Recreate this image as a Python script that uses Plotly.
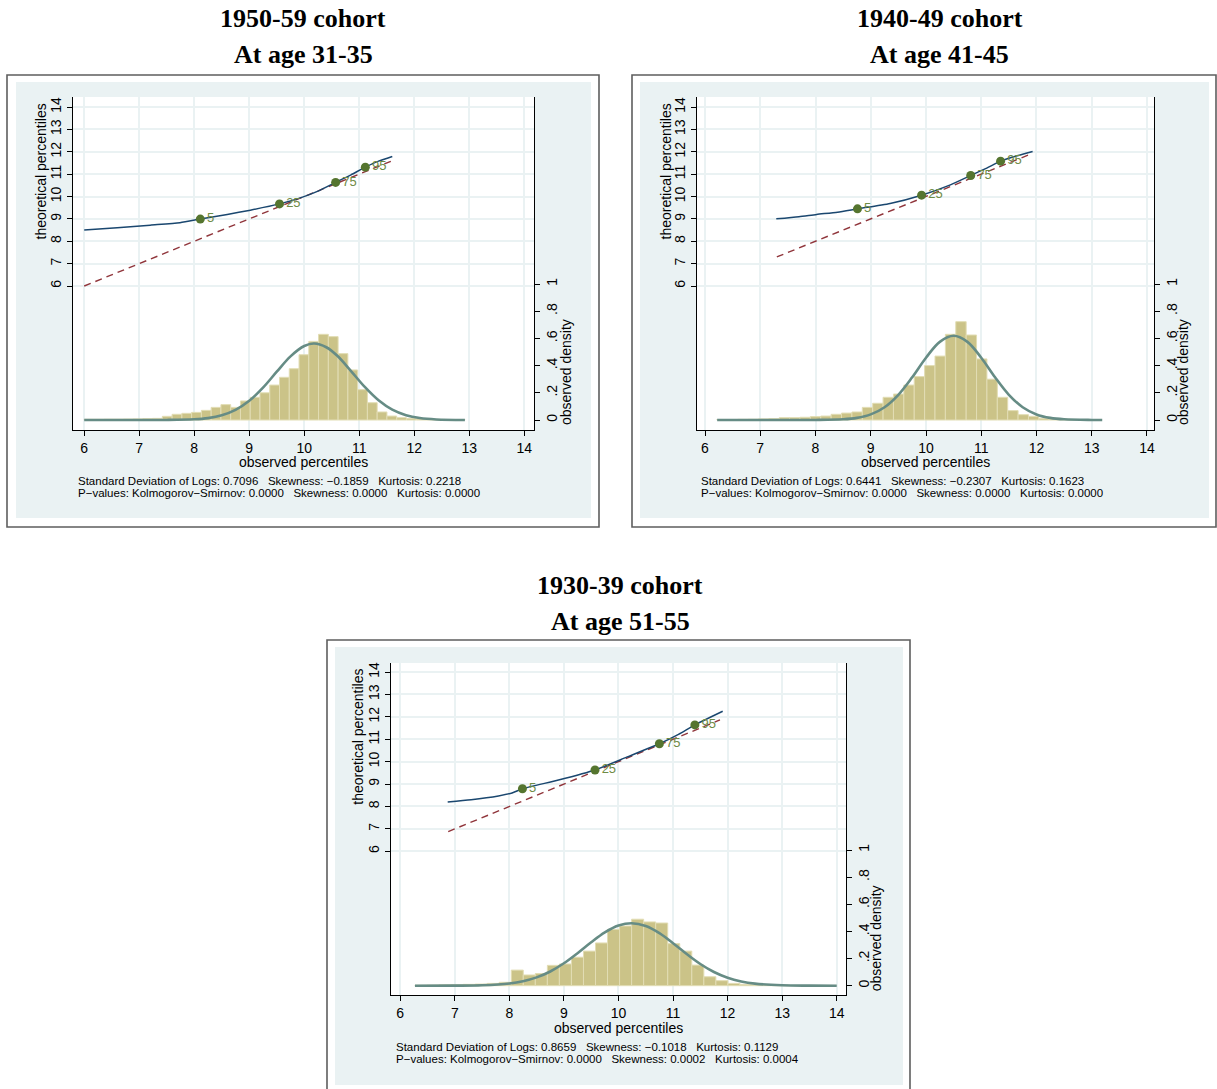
import plotly.graph_objects as go

W, H = 1217, 1089

# ---------------- data ----------------
title_lines = [["1950-59 cohort", "At age 31-35"],
               ["1940-49 cohort", "At age 41-45"],
               ["1930-39 cohort", "At age 51-55"]]

x_ticks = [6, 7, 8, 9, 10, 11, 12, 13, 14]
y_ticks = [6, 7, 8, 9, 10, 11, 12, 13, 14]
dens_ticks = [0, 0.2, 0.4, 0.6, 0.8, 1]
dens_ticktext = ["0", ".2", ".4", ".6", ".8", "1"]

# histogram bins (observed log values)
p1_bin_start, p1_bin_width = 6.0, 0.1775
p1_density = [0.005, 0.005, 0.006, 0.006, 0.007, 0.008, 0.010, 0.012,
              0.027, 0.042, 0.049, 0.056, 0.071, 0.093, 0.113, 0.093,
              0.140, 0.167, 0.200, 0.257, 0.314, 0.377, 0.480, 0.578,
              0.630, 0.613, 0.488, 0.368, 0.223, 0.127, 0.059, 0.029,
              0.017, 0.011, 0.008, 0.005, 0.004, 0.003, 0.002]

p2_bin_start, p2_bin_width = 6.215, 0.188
p2_density = [0.004, 0.004, 0.005, 0.006, 0.008, 0.010, 0.017, 0.017,
              0.020, 0.025, 0.029, 0.042, 0.051, 0.059, 0.093, 0.123,
              0.167, 0.191, 0.257, 0.319, 0.400, 0.470, 0.630, 0.723,
              0.625, 0.449, 0.300, 0.167, 0.069, 0.039, 0.027, 0.012,
              0.008, 0.005, 0.004, 0.003, 0.003]

p3_bin_start, p3_bin_width = 6.27, 0.2206
p3_density = [0.003, 0.004, 0.006, 0.007, 0.010, 0.012, 0.017, 0.025,
              0.115, 0.079, 0.090, 0.150, 0.160, 0.210, 0.255, 0.315,
              0.415, 0.440, 0.490, 0.470, 0.462, 0.310, 0.255, 0.152,
              0.066, 0.037, 0.017, 0.010, 0.006, 0.004, 0.003, 0.002,
              0.002, 0.002, 0.002]

# fitted normal density curves
p1_norm_x = [6.0, 7.0, 7.5, 8.0, 8.25, 8.5, 8.75, 9.0, 9.25, 9.5, 9.75, 10.0,
             10.18, 10.4, 10.6, 10.85, 11.1, 11.35, 11.6, 11.85, 12.1, 12.4, 12.92]
p1_norm_y = [0.0, 0.0, 0.0005, 0.0051, 0.014, 0.0342, 0.074, 0.141, 0.238, 0.355,
             0.468, 0.544, 0.562, 0.535, 0.472, 0.360, 0.243, 0.145, 0.076,
             0.0354, 0.0145, 0.0042, 0.0003]

p2_norm_x = [6.22, 7.5, 8.0, 8.5, 8.75, 9.0, 9.25, 9.5, 9.75, 10.0, 10.25, 10.5,
             10.75, 11.0, 11.25, 11.5, 11.75, 12.0, 12.25, 12.5, 13.0, 13.19]
p2_norm_y = [0.0, 0.0, 0.0003, 0.005, 0.0155, 0.0411, 0.094, 0.1855, 0.314, 0.458,
             0.5746, 0.6195, 0.5746, 0.458, 0.314, 0.1855, 0.094, 0.0411, 0.0155,
             0.005, 0.0003, 0.0]

p3_norm_x = [6.27, 7.0, 7.5, 8.0, 8.25, 8.5, 8.75, 9.0, 9.25, 9.5, 9.75, 10.0, 10.24,
             10.5, 10.75, 11.0, 11.25, 11.5, 11.75, 12.0, 12.25, 12.5, 13.0, 13.5, 14.0]
p3_norm_y = [0.0, 0.0004, 0.0031, 0.0162, 0.0329, 0.0612, 0.1049, 0.1653, 0.2397,
             0.3198, 0.3925, 0.4433, 0.4607, 0.4404, 0.3874, 0.3135, 0.2334, 0.1599,
             0.1008, 0.0584, 0.0311, 0.0153, 0.0029, 0.0004, 0.0]

# quantile-quantile curves: observed vs theoretical percentiles
p1_qq_obs = [6.00, 6.6, 7.2, 7.74, 8.11, 8.6, 9.02, 9.55, 9.93, 10.25, 10.57, 10.85, 11.11, 11.35, 11.60]
p1_qq_theo = [8.50, 8.60, 8.72, 8.83, 8.99, 9.20, 9.39, 9.67, 9.94, 10.24, 10.63, 10.97, 11.31, 11.58, 11.79]
p2_qq_obs = [7.29, 7.7, 8.02, 8.4, 8.76, 9.35, 9.92, 10.43, 10.81, 11.1, 11.35, 11.65, 11.93]
p2_qq_theo = [9.00, 9.10, 9.20, 9.30, 9.45, 9.69, 10.06, 10.51, 10.94, 11.27, 11.58, 11.82, 12.01]
p3_qq_obs = [6.87, 7.3, 7.8, 8.05, 8.24, 8.9, 9.57, 10.15, 10.75, 11.1, 11.4, 11.91]
p3_qq_theo = [8.20, 8.30, 8.47, 8.60, 8.79, 9.18, 9.63, 10.20, 10.80, 11.22, 11.64, 12.25]

# 45-degree reference line endpoints
p1_ref = [6.00, 11.60]
p2_ref = [7.30, 11.85]
p3_ref = [6.88, 11.86]

# marked percentiles
pct_labels = ["5", "25", "75", "95"]
p1_pct_obs = [8.11, 9.55, 10.57, 11.11]
p1_pct_theo = [8.99, 9.67, 10.63, 11.31]
p2_pct_obs = [8.76, 9.92, 10.81, 11.35]
p2_pct_theo = [9.45, 10.06, 10.94, 11.58]
p3_pct_obs = [8.24, 9.57, 10.75, 11.40]
p3_pct_theo = [8.79, 9.63, 10.80, 11.64]

stats_line1 = ["Standard Deviation of Logs: 0.7096   Skewness: \u22120.1859   Kurtosis: 0.2218",
               "Standard Deviation of Logs: 0.6441   Skewness: \u22120.2307   Kurtosis: 0.1623",
               "Standard Deviation of Logs: 0.8659   Skewness: \u22120.1018   Kurtosis: 0.1129"]
stats_line2 = ["P\u2212values: Kolmogorov\u2212Smirnov: 0.0000   Skewness: 0.0000   Kurtosis: 0.0000",
               "P\u2212values: Kolmogorov\u2212Smirnov: 0.0000   Skewness: 0.0000   Kurtosis: 0.0000",
               "P\u2212values: Kolmogorov\u2212Smirnov: 0.0000   Skewness: 0.0002   Kurtosis: 0.0004"]

# ---------------- layout geometry (pixels) ----------------
panels = [
    dict(plot=(73, 534, 97, 430), xr=[5.796, 14.176], yl=[-0.436, 14.447], yr=[-0.0735, 2.375],
         border=(7, 599, 75, 527), fill=(16, 591, 82, 518), title_x=303, title_y=(19, 55),
         ytitle=(40, 171.5), rtitle=(566, 372), xtitle=(303.5, 461.7), stats=(76, 481, 492.5)),
    dict(plot=(697, 1154, 97, 430), xr=[5.855, 14.127], yl=[-0.436, 14.447], yr=[-0.0735, 2.375],
         border=(632, 1216, 75, 527), fill=(640, 1209, 82, 518), title_x=940, title_y=(19, 55),
         ytitle=(665, 171.5), rtitle=(1183, 372), xtitle=(925, 461.7), stats=(698.5, 481, 492.5)),
    dict(plot=(391, 846, 663, 995), xr=[5.831, 14.170], yl=[-0.412, 14.402], yr=[-0.0685, 2.378],
         border=(327, 910, 640, 1100), fill=(335, 903, 647, 1085), title_x=620, title_y=(585, 621),
         ytitle=(358, 736.7), rtitle=(876, 938.3), xtitle=(618, 1027.7), stats=(393.5, 1047.3, 1059)),
]

hist = [(p1_bin_start, p1_bin_width, p1_density),
        (p2_bin_start, p2_bin_width, p2_density),
        (p3_bin_start, p3_bin_width, p3_density)]
norms = [(p1_norm_x, p1_norm_y), (p2_norm_x, p2_norm_y), (p3_norm_x, p3_norm_y)]
qqs = [(p1_qq_obs, p1_qq_theo), (p2_qq_obs, p2_qq_theo), (p3_qq_obs, p3_qq_theo)]
refs = [p1_ref, p2_ref, p3_ref]
pcts = [(p1_pct_obs, p1_pct_theo), (p2_pct_obs, p2_pct_theo), (p3_pct_obs, p3_pct_theo)]

BG = "#EAF2F3"
NAVY = "#1A476F"
MAROON = "#90353B"
KHAKI = "#CBC388"
CURVE = "#668C85"
GREEN = "#55752F"
GREEN_TXT = "#6E8B45"
SANS = "Liberation Sans, Arial, sans-serif"
SERIF = "Liberation Serif, Times New Roman, serif"


def px(x):
    return x / W


def py(y):
    return 1 - y / H


fig = go.Figure()
shapes = []
annotations = []
layout = {}

for i, p in enumerate(panels):
    n = i + 1
    xa = "x" if n == 1 else f"x{n}"
    yl_id = 2 * n - 1
    yr_id = 2 * n
    yla = "y" if yl_id == 1 else f"y{yl_id}"
    yra = f"y{yr_id}"

    x0, x1, y0, y1 = p["plot"]
    bx0, bx1, by0, by1 = p["border"]
    fx0, fx1, fy0, fy1 = p["fill"]
    shapes.append(dict(type="rect", xref="paper", yref="paper", layer="below",
                       x0=px(bx0), x1=px(bx1), y0=py(by1), y1=py(by0),
                       line=dict(color="#5E5E5E", width=1.6), fillcolor="white"))
    shapes.append(dict(type="rect", xref="paper", yref="paper", layer="below",
                       x0=px(fx0), x1=px(fx1), y0=py(fy1), y1=py(fy0),
                       line=dict(width=0), fillcolor=BG))
    shapes.append(dict(type="rect", xref="paper", yref="paper", layer="below",
                       x0=px(x0), x1=px(x1), y0=py(y1), y1=py(y0),
                       line=dict(width=0), fillcolor="white"))

    # histogram
    start, width, dens = hist[i]
    centers = [start + width * (k + 0.5) for k in range(len(dens))]
    fig.add_trace(go.Bar(x=centers, y=dens, width=width, xaxis=xa, yaxis=yra,
                         marker=dict(color=KHAKI, line=dict(color="#E2DDB4", width=1)),
                         showlegend=False, hoverinfo="skip"))
    # normal curve
    nx, ny = norms[i]
    fig.add_trace(go.Scatter(x=nx, y=ny, mode="lines", xaxis=xa, yaxis=yra,
                             line=dict(color=CURVE, width=2.6, shape="spline", smoothing=1.0),
                             showlegend=False, hoverinfo="skip"))
    # reference line
    r = refs[i]
    fig.add_trace(go.Scatter(x=r, y=r, mode="lines", xaxis=xa, yaxis=yla,
                             line=dict(color=MAROON, width=1.4, dash="7px,5px"),
                             showlegend=False, hoverinfo="skip"))
    # qq curve
    qo, qt = qqs[i]
    fig.add_trace(go.Scatter(x=qo, y=qt, mode="lines", xaxis=xa, yaxis=yla,
                             line=dict(color=NAVY, width=1.5, shape="spline", smoothing=0.6),
                             showlegend=False, hoverinfo="skip"))
    # percentile markers
    po, pt = pcts[i]
    fig.add_trace(go.Scatter(x=po, y=pt, mode="markers+text", xaxis=xa, yaxis=yla,
                             text=pct_labels, textposition="middle right",
                             textfont=dict(family=SANS, size=13, color=GREEN_TXT),
                             marker=dict(color=GREEN, size=9),
                             showlegend=False, hoverinfo="skip"))

    axis_common = dict(showline=True, linecolor="black", linewidth=1, ticks="outside",
                       ticklen=5, tickwidth=1, tickcolor="black", zeroline=False,
                       tickfont=dict(family=SANS, size=14, color="black"))
    layout["xaxis" if n == 1 else f"xaxis{n}"] = dict(
        domain=[px(x0), px(x1)], range=p["xr"], anchor=yla, tickvals=x_ticks,
        showgrid=True, gridcolor=BG, gridwidth=1.5, **axis_common)
    layout["yaxis" if yl_id == 1 else f"yaxis{yl_id}"] = dict(
        domain=[py(y1), py(y0)], range=p["yl"], anchor=xa, tickvals=y_ticks,
        tickangle=-90, showgrid=True, gridcolor=BG, gridwidth=1.5, **axis_common)
    layout[f"yaxis{yr_id}"] = dict(
        overlaying=yla, side="right", anchor=xa, range=p["yr"], tickvals=dens_ticks,
        ticktext=dens_ticktext, tickangle=-90, showgrid=False, **axis_common)

    # titles
    tx = p["title_x"]
    for line, ty in zip(title_lines[i], p["title_y"]):
        annotations.append(dict(x=px(tx), y=py(ty), xref="paper", yref="paper",
                                text=f"<b>{line}</b>", showarrow=False,
                                xanchor="center", yanchor="middle",
                                font=dict(family=SERIF, size=26, color="black")))
    # axis titles
    annotations.append(dict(x=px(p["ytitle"][0]), y=py(p["ytitle"][1]), xref="paper", yref="paper",
                            text="theoretical percentiles", textangle=-90, showarrow=False,
                            xanchor="center", yanchor="middle",
                            font=dict(family=SANS, size=14, color="black")))
    annotations.append(dict(x=px(p["rtitle"][0]), y=py(p["rtitle"][1]), xref="paper", yref="paper",
                            text="observed density", textangle=-90, showarrow=False,
                            xanchor="center", yanchor="middle",
                            font=dict(family=SANS, size=14, color="black")))
    annotations.append(dict(x=px(p["xtitle"][0]), y=py(p["xtitle"][1]), xref="paper", yref="paper",
                            text="observed percentiles", showarrow=False,
                            xanchor="center", yanchor="middle",
                            font=dict(family=SANS, size=14, color="black")))
    sx, sy1, sy2 = p["stats"]
    for txt, sy in ((stats_line1[i], sy1), (stats_line2[i], sy2)):
        annotations.append(dict(x=px(sx), y=py(sy), xref="paper", yref="paper",
                                text=txt.replace(" ", "\u00a0"), showarrow=False,
                                xanchor="left", yanchor="middle",
                                font=dict(family=SANS, size=11.5, color="black")))

fig.update_layout(width=W, height=H, margin=dict(l=0, r=0, t=0, b=0),
                  paper_bgcolor="white", plot_bgcolor="rgba(0,0,0,0)",
                  barmode="overlay", showlegend=False, shapes=shapes,
                  annotations=annotations, **layout)

fig.write_html("out.html")
